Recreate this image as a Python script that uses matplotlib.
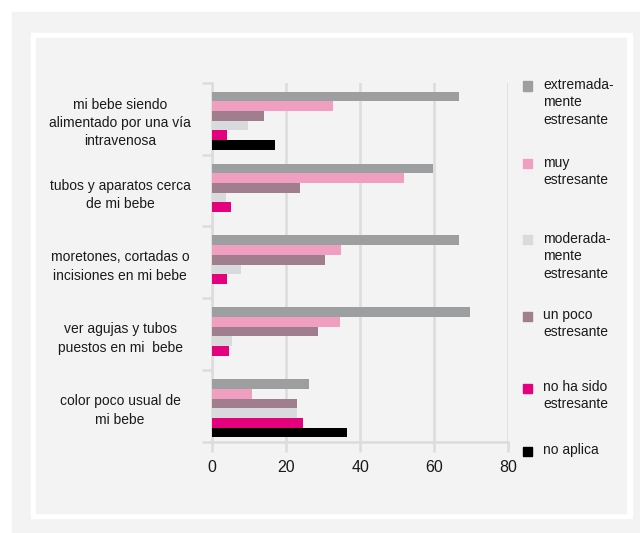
import numpy as np
import matplotlib
matplotlib.use('Agg')
import matplotlib.pyplot as plt
import matplotlib.transforms as mtransforms
from matplotlib.patches import Rectangle

FONT = ['Liberation Sans Narrow', 'Liberation Sans', 'DejaVu Sans']
plt.rcParams['font.family'] = FONT

# Data (percent)
categories = [
    'mi bebe siendo\nalimentado por una vía\nintravenosa',
    'tubos y aparatos cerca\nde mi bebe',
    'moretones, cortadas o\nincisiones en mi bebe',
    'ver agujas y tubos\npuestos en mi  bebe',
    'color poco usual de\nmi bebe',
]
extremadamente = [66.7, 59.7, 66.7, 69.7, 26.3]
muy = [32.7, 51.8, 34.8, 34.6, 10.9]
un_poco = [14.1, 23.8, 30.5, 28.7, 23.0]
moderadamente = [9.8, 3.9, 7.9, 5.5, 23.0]
no_ha_sido = [4.1, 5.2, 4.1, 4.7, 24.6]
no_aplica = [17.1, 0, 0, 0, 36.5]
xticks = [0, 20, 40, 60, 80]

# bar order inside each group (top to bottom)
series = [
    (extremadamente, '#9d9e9f'),
    (muy, '#f09fc0'),
    (un_poco, '#a17e8d'),
    (moderadamente, '#d9dadb'),
    (no_ha_sido, '#e5007e'),
    (no_aplica, '#000000'),
]

# legend order
legend_items = [
    ('extremada-\nmente\nestresante', '#9d9e9f'),
    ('muy\nestresante', '#f09fc0'),
    ('moderada-\nmente\nestresante', '#d9dadb'),
    ('un poco\nestresante', '#a17e8d'),
    ('no ha sido\nestresante', '#e5007e'),
    ('no aplica', '#000000'),
]

W, H = 640, 533
fig = plt.figure(figsize=(W / 100, H / 100), dpi=100)
fig.patch.set_facecolor('white')


def px_rect(x0, y0, x1, y1, color):
    fig.patches.append(Rectangle((x0 / W, 1 - y1 / H), (x1 - x0) / W, (y1 - y0) / H,
                                 transform=fig.transFigure, color=color, zorder=-10))


px_rect(12, 12, 640, 533, '#f3f3f3')
px_rect(31, 33, 632, 518, 'white')
px_rect(36, 38, 626, 513, '#f3f3f3')

ax = fig.add_axes([211.7 / W, 1 - 442 / H, 296.8 / W, 359.3 / H])
ax.set_facecolor('#f3f3f3')

bh = 0.135
idx = np.arange(len(categories))
for j, (vals, col) in enumerate(series):
    ax.barh(idx + 0.125 + bh * (j + 0.5), vals, height=bh, color=col, zorder=3)

ax.set_xlim(0, 80)
ax.set_ylim(len(categories), 0)
ax.set_xticks(xticks)
ax.set_yticks(np.arange(len(categories) + 1))
ax.set_yticklabels([])
ax.grid(axis='x', color='#dcdcdc', linewidth=1.8, zorder=0)
for s in ['top', 'right']:
    ax.spines[s].set_visible(False)
for s in ['left', 'bottom']:
    ax.spines[s].set_color('#dcdcdc')
    ax.spines[s].set_linewidth(1.8)
ax.tick_params(axis='both', color='#dcdcdc', width=1.8, length=7, labelsize=11.5,
               labelcolor='#1a1a1a', pad=6)

trans = mtransforms.blended_transform_factory(fig.transFigure, ax.transData)
for i, lab in enumerate(categories):
    ax.text(120 / W, i + 0.56, lab, transform=trans, ha='center', va='center',
            fontsize=10, color='#1a1a1a', linespacing=1.4)

# manual legend
legend_y = [86, 164, 240, 316, 388, 451]
for (lab, col), y in zip(legend_items, legend_y):
    px_rect(523, y - 4.5, 532, y + 4.5, col)
    fig.text(543 / W, 1 - (y - 8) / H, lab, ha='left', va='top', fontsize=10,
             color='#1a1a1a', linespacing=1.3)

fig.savefig('out.png', dpi=100, facecolor=fig.get_facecolor())
